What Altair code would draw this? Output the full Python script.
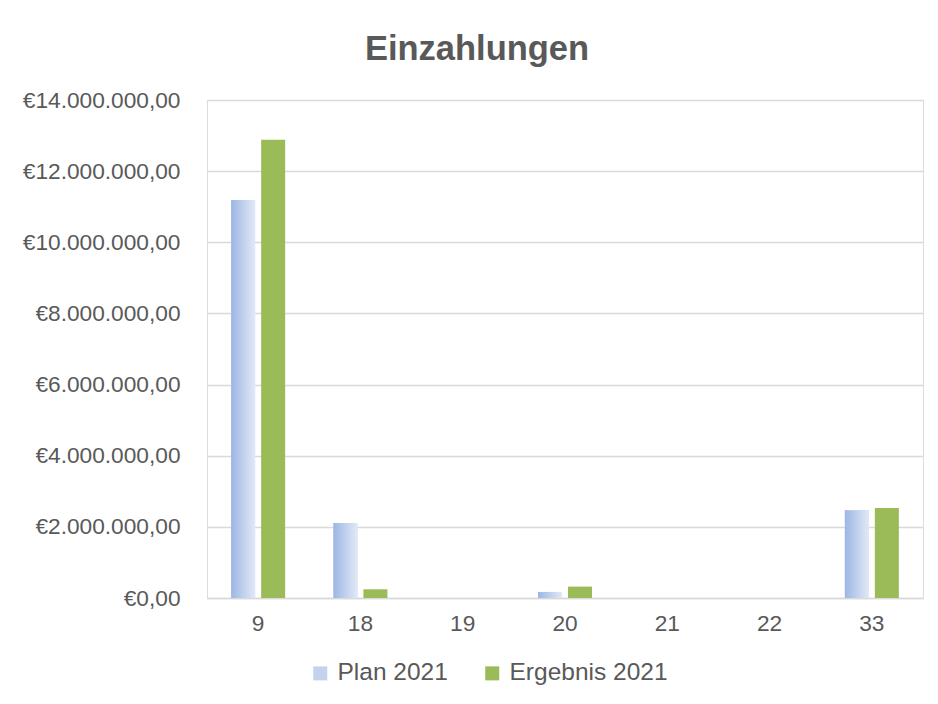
import altair as alt
import pandas as pd

categories = ["9", "18", "19", "20", "21", "22", "33"]
plan_2021 = [11190000, 2110000, 0, 170000, 0, 0, 2470000]
ergebnis_2021 = [12880000, 245000, 0, 320000, 0, 0, 2530000]
series = ["Plan 2021", "Ergebnis 2021"]

rows = []
for c, p, e in zip(categories, plan_2021, ergebnis_2021):
    rows.append({"Kategorie": c, "Serie": series[0], "Wert": p})
    rows.append({"Kategorie": c, "Serie": series[1], "Wert": e})
df = pd.DataFrame(rows)

FONT = "Liberation Sans"
TXT = "#595959"
FS = 22.7

x_enc = alt.X("Kategorie:N", sort=categories,
              scale=alt.Scale(paddingInner=0.472, paddingOuter=0.236),
              axis=alt.Axis(title=None, labelAngle=0, labelFontSize=FS, labelColor=TXT,
                            labelFont=FONT, ticks=False, domainColor="#d9d9d9",
                            domainWidth=1.5, labelPadding=14))
y_enc = alt.Y("Wert:Q", scale=alt.Scale(domain=[0, 14000000]),
              axis=alt.Axis(title=None, format="$,.2f", values=list(range(0, 14000001, 2000000)),
                            labelFontSize=FS, labelColor=TXT, labelFont=FONT, ticks=False,
                            domain=False, gridColor="#d9d9d9", gridWidth=1.3, labelPadding=27))
xo = alt.XOffset("Serie:N", sort=series, scale=alt.Scale(domain=series, paddingInner=0.2))

base = alt.Chart(df).mark_bar().encode(
    x=x_enc, y=y_enc, xOffset=xo,
    color=alt.Color("Serie:N", sort=series,
                    scale=alt.Scale(domain=series, range=["#c3d2ef", "#9bbb59"]),
                    legend=alt.Legend(title=None, orient="none", direction="horizontal",
                                      legendX=101, legendY=561,
                                      symbolType="square", symbolSize=196,
                                      labelFontSize=24.5, labelColor=TXT, labelFont=FONT,
                                      columnPadding=32, labelOffset=5,
                                      symbolStrokeWidth=0)),
)

grad = alt.Gradient(gradient="linear", x1=0, x2=1, y1=0, y2=0,
                    stops=[alt.GradientStop(color="#9db6e4", offset=0),
                           alt.GradientStop(color="#e2e9f7", offset=1)])

plan_layer = alt.Chart(df).transform_filter(alt.datum.Serie == "Plan 2021").mark_bar(
    fill=grad).encode(x=x_enc, y=y_enc, xOffset=xo)

chart = alt.layer(base, plan_layer).properties(
    width=716, height=498,
    title=alt.TitleParams("Einzahlungen", fontSize=34.5, font=FONT, fontWeight="bold",
                          color=TXT, offset=22, anchor="middle", dx=-88),
    padding={"left": 14, "top": 23, "right": 5, "bottom": 5},
).configure_view(stroke=None).configure(
    locale={"number": {"decimal": ",", "thousands": ".", "grouping": [3], "currency": ["€", ""]}}
)

chart.save("out.html", embed_options={"renderer": "svg", "actions": False})
